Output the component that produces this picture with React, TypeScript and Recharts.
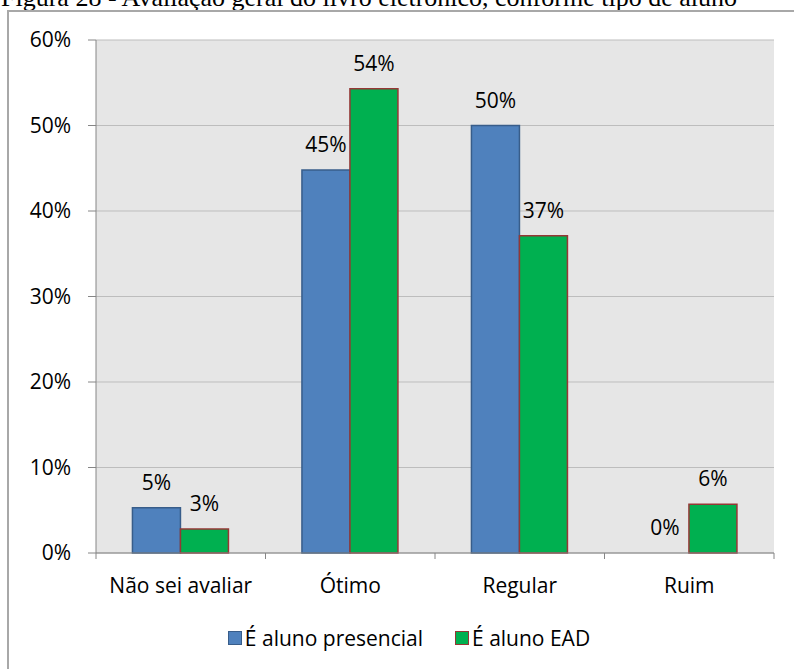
import { Bar, BarChart, CartesianGrid, LabelList, Legend, XAxis, YAxis } from "recharts";

const categories = ["Não sei avaliar", "Ótimo", "Regular", "Ruim"];
const presencial = [5.3, 44.8, 50.0, 0];
const ead = [2.8, 54.3, 37.1, 5.7];
const presencialLabels = ["5%", "45%", "50%", "0%"];
const eadLabels = ["3%", "54%", "37%", "6%"];
const yTicks = [0, 10, 20, 30, 40, 50, 60];

const W = 794;
const H = 669;
const MARGIN = { top: 40, right: 20, left: 0, bottom: 16 };
const Y_AXIS_W = 96;
const FONT = "'Open Sans', sans-serif";
const AXIS = "#868686";
const LABEL_GAP = 18;

const data = categories.map((name, i) => ({
  name,
  presencial: presencial[i],
  ead: ead[i],
  presencialLabel: presencialLabels[i],
  eadLabel: eadLabels[i]
}));

const halfBand = (W - MARGIN.left - MARGIN.right - Y_AXIS_W) / categories.length / 2;

function CategoryTick(props: any) {
  const { x, y, payload, index } = props;
  const last = index === categories.length - 1;
  return (
    <g>
      <line x1={x - halfBand} x2={x - halfBand} y1={y} y2={y + 6} stroke={AXIS} />
      {last && <line x1={x + halfBand} x2={x + halfBand} y1={y} y2={y + 6} stroke={AXIS} />}
      <text x={x} y={y + 40} textAnchor="middle" fontSize={21} fontFamily={FONT} fill="#000">
        {payload.value}
      </text>
    </g>
  );
}

function labelText(x: number, y: number, value: any) {
  return (
    <text x={x} y={y} textAnchor="middle" fontSize={21} fontFamily={FONT} fill="#000">
      {value}
    </text>
  );
}

// value label drawn above the bar
function ValueLabel(props: any) {
  const { x, y, width, value } = props;
  if (value == null) return null;
  return labelText(Number(x) + Number(width) / 2, Number(y) - LABEL_GAP, value);
}

// zero-height blue bars are skipped by the library, so their label is
// placed from the neighbouring green bar (same width, same baseline)
function ZeroPresencialLabel(props: any) {
  const { x, y, width, height, value, index } = props;
  if (value == null || presencial[index] !== 0) return null;
  const w = Number(width);
  return labelText(Number(x) - w / 2, Number(y) + Number(height) - LABEL_GAP, value);
}

function LegendBox() {
  const items = [
    { label: "É aluno presencial", fill: "#4F81BD", stroke: "#385D8A" },
    { label: "É aluno EAD", fill: "#00B050", stroke: "#953735" }
  ];
  return (
    <div
      style={{
        display: "flex",
        justifyContent: "center",
        gap: 32,
        paddingLeft: 44,
        fontFamily: FONT,
        fontSize: 21,
        color: "#000",
        lineHeight: "30px"
      }}
    >
      {items.map((it) => (
        <span key={it.label} style={{ display: "flex", alignItems: "center" }}>
          <span
            style={{
              width: 12,
              height: 12,
              background: it.fill,
              border: `1.5px solid ${it.stroke}`,
              marginRight: 3
            }}
          />
          {it.label}
        </span>
      ))}
    </div>
  );
}

export default function App() {
  return (
    <div
      style={{
        position: "absolute",
        left: 0,
        top: 0,
        width: W,
        height: H,
        overflow: "hidden",
        background: "#fff"
      }}
    >
      <div
        style={{
          position: "absolute",
          left: 1,
          top: -15,
          fontFamily: "'Liberation Serif', 'Times New Roman', serif",
          fontSize: 26,
          lineHeight: "26px",
          whiteSpace: "nowrap",
          color: "#000"
        }}
      >
        Figura 28 - Avaliação geral do livro eletrônico, conforme tipo de aluno
      </div>
      <div
        style={{
          position: "absolute",
          left: 7,
          top: 10,
          width: 820,
          height: 720,
          border: "2px solid #A8A8A8"
        }}
      />
      <div style={{ position: "absolute", left: 0, top: 0 }}>
        <BarChart
          width={W}
          height={H}
          data={data}
          margin={MARGIN}
          barCategoryGap="21.5%"
          barGap={0}
        >
          <CartesianGrid vertical={false} stroke="#BDBDBD" fill="#E6E6E6" fillOpacity={1} />
          <XAxis
            dataKey="name"
            height={70}
            stroke={AXIS}
            tickLine={false}
            tickSize={0}
            tickMargin={0}
            tick={<CategoryTick />}
            interval={0}
          />
          <YAxis
            width={Y_AXIS_W}
            domain={[0, 60]}
            ticks={yTicks}
            tickFormatter={(v) => `${v}%`}
            stroke={AXIS}
            tickSize={8}
            tickMargin={17}
            tick={{ fill: "#000", fontSize: 21, fontFamily: FONT }}
          />
          <Legend verticalAlign="bottom" content={<LegendBox />} />
          <Bar
            dataKey="presencial"
            fill="#4F81BD"
            stroke="#385D8A"
            strokeWidth={1.5}
            isAnimationActive={false}
          >
            <LabelList dataKey="presencialLabel" content={<ValueLabel />} />
          </Bar>
          <Bar
            dataKey="ead"
            fill="#00B050"
            stroke="#953735"
            strokeWidth={1.5}
            isAnimationActive={false}
          >
            <LabelList dataKey="eadLabel" content={<ValueLabel />} />
            <LabelList dataKey="presencialLabel" content={<ZeroPresencialLabel />} />
          </Bar>
        </BarChart>
      </div>
    </div>
  );
}
